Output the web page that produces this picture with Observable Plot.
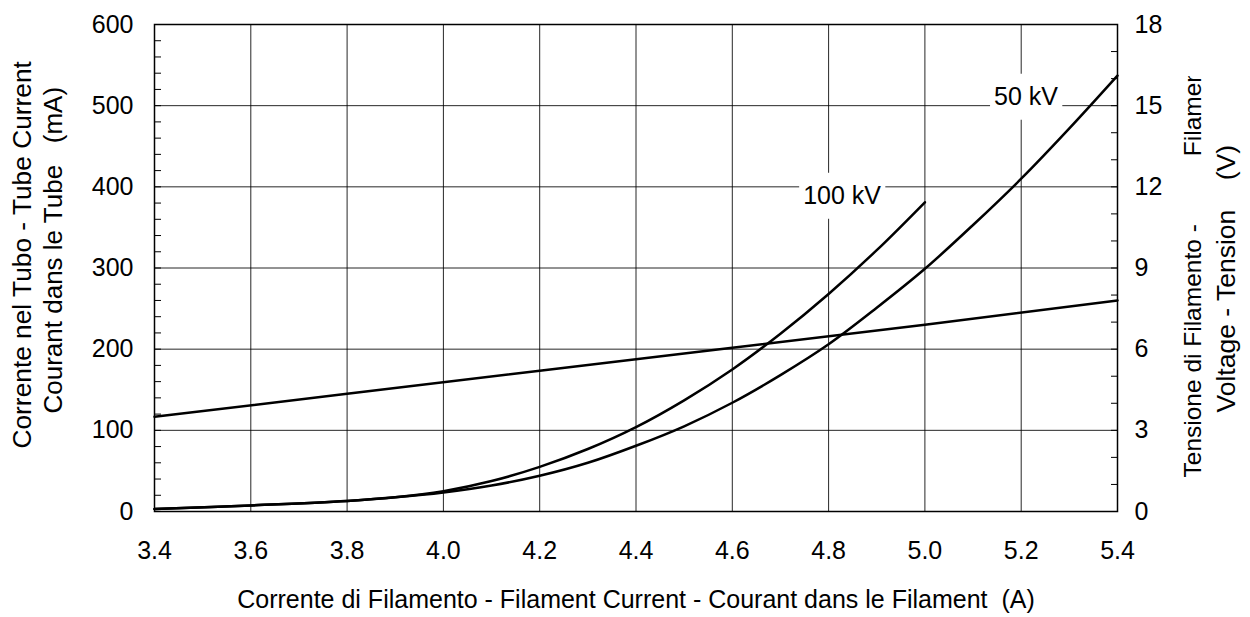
<!DOCTYPE html>
<html>
<head>
<meta charset="utf-8">
<script src="https://cdn.jsdelivr.net/npm/d3@7"></script>
<script src="https://cdn.jsdelivr.net/npm/@observablehq/plot@0.6"></script>
<style>
  html, body { margin: 0; padding: 0; background: #fff; }
  svg text { white-space: pre; }
</style>
</head>
<body>
<div id="chart"></div>
<script>
// ---- data ----
const current100 = [3.4, 3.6, 3.8, 3.9, 4.0, 4.1, 4.2, 4.3, 4.4, 4.5, 4.6, 4.7, 4.8, 4.9, 5.0];
const tube100    = [3, 7.5, 13, 17.5, 25, 37.5, 55, 77, 104, 137, 175, 219, 268, 322, 381];
const current50  = [3.4, 3.6, 3.8, 3.9, 4.0, 4.1, 4.2, 4.3, 4.4, 4.5, 4.6, 4.7, 4.8, 4.9, 5.0, 5.1, 5.2, 5.3, 5.4];
const tube50     = [3, 7.5, 13, 17.5, 23.5, 32, 44, 60, 81, 105, 134, 168, 206, 251, 299, 353, 410, 472, 537];
const filCurrent = [3.4, 3.8, 4.2, 4.6, 5.0, 5.4];
const filVoltage = [3.5, 4.35, 5.2, 6.05, 6.9, 7.8];

const xTicks = [3.4, 3.6, 3.8, 4.0, 4.2, 4.4, 4.6, 4.8, 5.0, 5.2, 5.4];
const yTicks = [0, 100, 200, 300, 400, 500, 600];
const yMinor = d3.range(0, 601, 20);
const vMinor = d3.range(0, 19, 1);
const mAperV = 100 / 3;

const curveLabels = ["100 kV", "50 kV"];
const labelX = [4.828, 5.21];
const labelY = [389, 511];

const xTitle = "Corrente di Filamento - Filament Current - Courant dans le Filament  (A)";
const yTitle1 = "Corrente nel Tubo - Tube Current";
const yTitle2 = "Courant dans le Tube   (mA)";
const rTitle1 = "Tensione di Filamento -          Filament";
const rTitle2 = "Voltage - Tension    (V)";

// ---- tables built from the arrays ----
const s100 = current100.map((c, i) => ({c, t: tube100[i]}));
const s50 = current50.map((c, i) => ({c, t: tube50[i]}));
const sV = filCurrent.map((c, i) => ({c, v: filVoltage[i]}));
const labels = curveLabels.map((text, i) => ({text, x: labelX[i], y: labelY[i]}));

const font = "'Liberation Sans', Arial, Helvetica, sans-serif";
const titleText = (txt, opts) => Plot.text([txt], {text: d => d, rotate: -90, textAnchor: "start", lineAnchor: "middle", fontSize: 26, fill: "#000", ...opts});

const chart = Plot.plot({
  width: 1250,
  height: 617,
  marginLeft: 154,
  marginRight: 133,
  marginTop: 24,
  marginBottom: 106,
  style: {fontFamily: font, fontSize: "25px", color: "#000", background: "#fff", overflow: "visible"},
  x: {domain: [3.4, 5.4]},
  y: {domain: [0, 600]},
  marks: [
    Plot.gridX(xTicks, {stroke: "#000", strokeOpacity: 0.85, strokeWidth: 1}),
    Plot.gridY(yTicks, {stroke: "#000", strokeOpacity: 0.85, strokeWidth: 1}),
    Plot.axisX(xTicks, {anchor: "bottom", tickSize: 0, tickPadding: 30, tickFormat: d => d.toFixed(1), label: null, fill: "#000", fontSize: 25}),
    Plot.axisY(yTicks, {anchor: "left", tickSize: 0, tickPadding: 21, label: null, fill: "#000", fontSize: 25}),
    Plot.axisY(yMinor, {anchor: "left", tickSize: 7, dx: 7, fill: "none", stroke: "#000"}),
    Plot.axisY(yTicks, {anchor: "right", tickSize: 0, tickPadding: 17, tickFormat: d => Math.round(d / mAperV), label: null, fill: "#000", fontSize: 25}),
    Plot.axisY(vMinor.map(v => v * mAperV), {anchor: "right", tickSize: 7, dx: -7, fill: "none", stroke: "#000"}),
    Plot.frame({stroke: "#000", strokeWidth: 1.5}),
    Plot.line(sV, {x: "c", y: d => d.v * mAperV, stroke: "#000", strokeWidth: 2.5}),
    Plot.line(s50, {x: "c", y: "t", stroke: "#000", strokeWidth: 2.5, curve: "catmull-rom"}),
    Plot.line(s100, {x: "c", y: "t", stroke: "#000", strokeWidth: 2.5, curve: "catmull-rom"}),
    Plot.text(labels, {x: "x", y: "y", text: "text", fontSize: 25, fill: "#000", textAnchor: "middle", lineAnchor: "middle"}),
    Plot.text([xTitle], {text: d => d, frameAnchor: "bottom", dy: 88, lineAnchor: "middle", fontSize: 25, fill: "#000"}),
    titleText(yTitle1, {frameAnchor: "left", dx: -132, dy: 180.5, fontSize: 26.3}),
    titleText(yTitle2, {frameAnchor: "left", dx: -101, dy: 145.5}),
    titleText(rTitle1, {frameAnchor: "right", dx: 76, dy: 209.5, fontSize: 24.5}),
    titleText(rTitle2, {frameAnchor: "right", dx: 109, dy: 144.5, fontSize: 26.5})
  ]
});

document.getElementById("chart").append(chart);

const ns = "http://www.w3.org/2000/svg";
const allTexts = Array.from(chart.querySelectorAll("text"));

// white boxes behind the curve labels
allTexts.filter(t => curveLabels.includes(t.textContent)).forEach(t => {
  const b = t.getBBox();
  const rect = document.createElementNS(ns, "rect");
  rect.setAttribute("x", b.x - 4);
  rect.setAttribute("y", b.y - 8);
  rect.setAttribute("width", b.width + 8);
  rect.setAttribute("height", b.height + 18);
  rect.setAttribute("fill", "#fff");
  rect.setAttribute("stroke", "none");
  const tr = t.getAttribute("transform");
  if (tr) rect.setAttribute("transform", tr);
  t.parentNode.insertBefore(rect, t);
});

// the right title is cut off near the top, as in the reference
(function () {
  const t = allTexts.find(t => t.textContent === rTitle1);
  if (!t) return;
  const g = t.parentNode;
  const defs = document.createElementNS(ns, "defs");
  const cp = document.createElementNS(ns, "clipPath");
  cp.setAttribute("id", "rtitle-clip");
  cp.setAttribute("clipPathUnits", "userSpaceOnUse");
  const r = document.createElementNS(ns, "rect");
  r.setAttribute("x", 0); r.setAttribute("y", 76);
  r.setAttribute("width", 1250); r.setAttribute("height", 600);
  cp.appendChild(r); defs.appendChild(cp); chart.insertBefore(defs, chart.firstChild);
  const wrap = document.createElementNS(ns, "g");
  wrap.setAttribute("clip-path", "url(#rtitle-clip)");
  g.parentNode.insertBefore(wrap, g);
  wrap.appendChild(g);
})();
</script>
</body>
</html>
